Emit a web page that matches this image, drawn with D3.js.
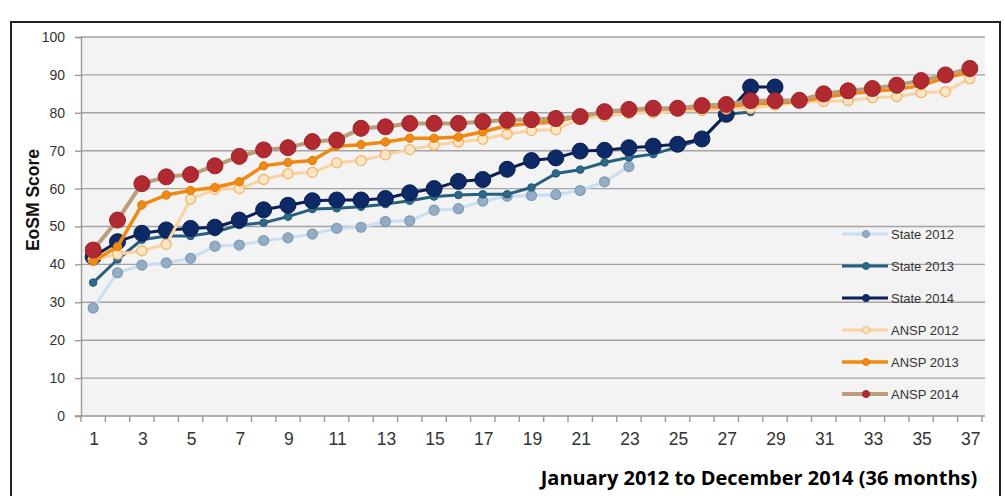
<!DOCTYPE html>
<html>
<head>
<meta charset="utf-8">
<script src="https://cdn.jsdelivr.net/npm/d3@7"></script>
<style>
  html, body { margin: 0; padding: 0; background: #fff; }
  svg { display: block; }
</style>
</head>
<body>
<svg id="chart" width="1005" height="496"></svg>
<script>
const months = d3.range(1, 38);
const xTickLabels = d3.range(1, 38, 2);
const yTicks = [0, 10, 20, 30, 40, 50, 60, 70, 80, 90, 100];

const seriesNames = ["State 2012", "State 2013", "State 2014", "ANSP 2012", "ANSP 2013", "ANSP 2014"];

const state2012 = [28.5, 37.8, 39.8, 40.4, 41.6, 44.8, 45.1, 46.3, 47.0, 48.0, 49.5, 49.8, 51.3, 51.5, 54.3, 54.7, 56.7, 58.0, 58.2, 58.4, 59.5, 61.8, 65.8];
const state2013 = [35.2, 41.3, 46.5, 47.5, 47.5, 48.5, 50.4, 51.0, 52.6, 54.6, 54.8, 55.2, 55.9, 56.8, 57.9, 58.3, 58.5, 58.5, 60.3, 64.0, 65.0, 66.9, 68.2, 69.1, 71.0, 73.0, 79.6, 80.2];
const state2014 = [42.0, 46.0, 48.2, 49.1, 49.5, 49.8, 51.7, 54.4, 55.6, 56.8, 57.0, 57.0, 57.4, 58.9, 60.0, 61.9, 62.4, 65.1, 67.4, 68.1, 69.9, 70.1, 70.8, 71.2, 71.7, 73.1, 79.6, 86.8, 86.8];
const ansp2012 = [41.2, 42.7, 43.6, 45.3, 57.2, 59.8, 60.0, 62.4, 63.9, 64.3, 66.8, 67.4, 68.9, 70.3, 71.5, 72.3, 73.0, 74.4, 75.3, 75.5, 78.5, 79.0, 79.8, 80.0, 80.5, 80.6, 81.0, 81.2, 82.0, 82.8, 83.0, 83.2, 84.0, 84.3, 85.3, 85.6, 89.0];
const ansp2013 = [40.8, 44.7, 55.7, 58.3, 59.5, 60.3, 61.8, 66.0, 66.9, 67.4, 71.2, 71.6, 72.3, 73.3, 73.3, 73.6, 75.0, 76.6, 77.2, 77.6, 79.2, 80.2, 80.6, 81.0, 81.0, 81.5, 81.6, 82.3, 82.6, 83.0, 84.0, 85.0, 85.6, 86.2, 87.2, 89.3, 90.6];
const ansp2014 = [43.8, 51.7, 61.3, 63.1, 63.7, 66.0, 68.5, 70.2, 70.8, 72.4, 72.8, 75.9, 76.3, 77.2, 77.2, 77.2, 77.7, 78.1, 78.2, 78.5, 79.0, 80.3, 80.9, 81.2, 81.2, 81.9, 82.2, 83.2, 83.2, 83.3, 85.0, 85.8, 86.4, 87.3, 88.5, 90.0, 91.7];

const seriesValues = [state2012, state2013, state2014, ansp2012, ansp2013, ansp2014];

const styles = [
  { line: "#c9def0", lw: 3, r: 5, fill: "#93adc4", stroke: "#7d9ab6", sw: 1.2 },
  { line: "#27607f", lw: 3, r: 3.8, fill: "#2c6a8a", stroke: "#245a77", sw: 1 },
  { line: "#0d1f55", lw: 3, r: 8, fill: "#0e2a66", stroke: "#0a1f50", sw: 1 },
  { line: "#fbd3a1", lw: 3, r: 5, fill: "#fde6c6", stroke: "#f4b468", sw: 1.3 },
  { line: "#f08a12", lw: 3.5, r: 4.2, fill: "#ef8a14", stroke: "#e07c0a", sw: 1 },
  { line: "#bb9d7c", lw: 4, r: 8, fill: "#b12a32", stroke: "#9e2229", sw: 1 }
];

const svg = d3.select("#chart");

// outer frame
svg.append("rect").attr("x", 11).attr("y", 22).attr("width", 989).attr("height", 490)
  .attr("fill", "none").attr("stroke", "#222").attr("stroke-width", 2);

const pLeft = 81, pRight = 982, pTop = 37, pBottom = 416, bgRight = 985;
const x = d3.scaleBand().domain(months).range([pLeft, pRight]);
const y = d3.scaleLinear().domain([0, 100]).range([pBottom, pTop]);

// plot background
svg.append("rect").attr("x", pLeft).attr("y", pTop).attr("width", bgRight - pLeft).attr("height", pBottom - pTop)
  .attr("fill", "#f3f3f3");

// gridlines
svg.append("g").selectAll("line").data(yTicks.filter(d => d > 0)).join("line")
  .attr("x1", pLeft).attr("x2", bgRight)
  .attr("y1", d => y(d)).attr("y2", d => y(d))
  .attr("stroke", "#a3a3a3").attr("stroke-width", 1.4);

// y axis
const yAxis = d3.axisLeft(y).tickValues(yTicks).tickSize(6).tickPadding(10);
const gy = svg.append("g").attr("transform", `translate(${pLeft},0)`).call(yAxis);
gy.select(".domain").attr("stroke", "#999").attr("stroke-width", 1.4);
gy.selectAll(".tick line").attr("stroke", "#999").attr("stroke-width", 1.4);
gy.selectAll(".tick text").attr("font-family", "Liberation Sans, Arial, sans-serif")
  .attr("font-size", 14).attr("fill", "#333");

// x axis baseline
svg.append("line").attr("x1", pLeft - 6).attr("x2", bgRight).attr("y1", pBottom).attr("y2", pBottom)
  .attr("stroke", "#999").attr("stroke-width", 1.4);
// x tick marks at band boundaries
const boundaries = months.map(m => x(m)).concat([x(37) + x.bandwidth()]);
svg.append("g").selectAll("line").data(boundaries).join("line")
  .attr("x1", d => d).attr("x2", d => d).attr("y1", pBottom).attr("y2", pBottom + 6)
  .attr("stroke", "#999").attr("stroke-width", 1.4);
// x tick labels
svg.append("g").selectAll("text").data(xTickLabels).join("text")
  .attr("x", d => x(d) + x.bandwidth() / 2 + 1).attr("y", 445)
  .attr("text-anchor", "middle")
  .attr("font-family", "Liberation Sans, Arial, sans-serif").attr("font-size", 17.5)
  .attr("fill", "#333").text(d => d);

// axis titles
svg.append("text").attr("transform", "translate(39,200) rotate(-90)")
  .attr("text-anchor", "middle").attr("font-family", "Liberation Sans, Arial, sans-serif")
  .attr("font-weight", "bold").attr("font-size", 17.5).attr("fill", "#111").text("EoSM Score");
svg.append("text").attr("x", 759).attr("y", 485).attr("text-anchor", "middle")
  .attr("font-family", "Open Sans, Liberation Sans, sans-serif").attr("font-weight", "bold")
  .attr("font-size", 20).attr("fill", "#000").text("January 2012 to December 2014 (36 months)");

// series
const line = d3.line().x((d, i) => x(months[i]) + x.bandwidth() / 2).y(d => y(d));
seriesValues.forEach((vals, si) => {
  const st = styles[si];
  const g = svg.append("g");
  g.append("path").datum(vals).attr("d", line).attr("fill", "none")
    .attr("stroke", st.line).attr("stroke-width", st.lw).attr("stroke-linejoin", "round");
  g.selectAll("circle").data(vals).join("circle")
    .attr("cx", (d, i) => x(months[i]) + x.bandwidth() / 2).attr("cy", d => y(d))
    .attr("r", st.r).attr("fill", st.fill).attr("stroke", st.stroke).attr("stroke-width", st.sw);
});

// legend
const legY = [234, 266, 298, 330, 362, 394];
const leg = svg.append("g");
seriesNames.forEach((name, i) => {
  const st = styles[i];
  const ly = legY[i];
  leg.append("line").attr("x1", 842).attr("x2", 888).attr("y1", ly).attr("y2", ly)
    .attr("stroke", st.line).attr("stroke-width", st.lw);
  leg.append("circle").attr("cx", 866).attr("cy", ly).attr("r", Math.min(st.r, 3.5))
    .attr("fill", st.fill).attr("stroke", st.stroke).attr("stroke-width", 1);
  leg.append("text").attr("x", 891).attr("y", ly + 4.5)
    .attr("font-family", "Liberation Sans, Arial, sans-serif").attr("font-size", 13)
    .attr("fill", "#333").text(name);
});
</script>
</body>
</html>
